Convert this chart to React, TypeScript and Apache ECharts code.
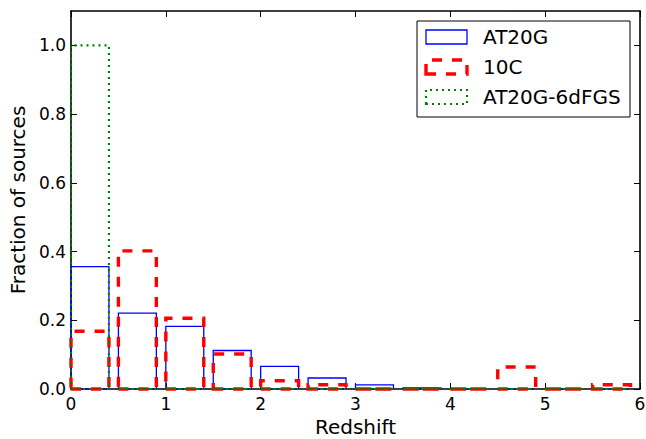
import React, { useEffect, useRef } from "react";
import * as echarts from "echarts";

// Histogram bins (left edge of each redshift bin, width 0.5)
const binStarts = [0, 0.5, 1, 1.5, 2, 2.5, 3, 3.5, 4, 4.5, 5, 5.5];

// Fraction of sources per bin
const at20g = [0.356, 0.221, 0.182, 0.112, 0.066, 0.032, 0.012, 0.003, 0, 0, 0, 0];
const tenC = [0.168, 0.402, 0.206, 0.102, 0.024, 0.0125, 0, 0, 0, 0.064, 0, 0.0125];
const at20g6dfgs = [1.0, 0, 0, 0, 0, 0, 0, 0, 0, 0, 0, 0];

const seriesNames = ["AT20G", "10C", "AT20G-6dFGS"];
const xTicks = [0, 1, 2, 3, 4, 5, 6];
const yTicks = [0, 0.2, 0.4, 0.6, 0.8, 1.0];

// Drawn bar spans 80% of the 0.5-wide bin
const BIN_WIDTH = 0.5;
const RWIDTH = 0.8;

const FONT = "DejaVu Sans";

type LineStyle = { stroke: string; lineWidth: number; lineDash?: number[] };

const styles: LineStyle[] = [
  { stroke: "#0000ff", lineWidth: 1.3 },
  { stroke: "#ff0000", lineWidth: 3.4, lineDash: [10, 10] },
  { stroke: "#008000", lineWidth: 2.2, lineDash: [2, 4] },
];

function outlineSeries(name: string, values: number[], st: LineStyle) {
  return {
    type: "custom",
    name,
    clip: false,
    xAxisIndex: 0,
    yAxisIndex: 0,
    encode: { x: 0, y: 1 },
    data: binStarts.map((b, i) => [b, values[i]]),
    renderItem: (_params: any, api: any) => {
      const x0 = api.value(0);
      const h = api.value(1);
      const bl = api.coord([x0, 0]);
      const tr = api.coord([x0 + BIN_WIDTH * RWIDTH, h]);
      return {
        type: "polygon",
        shape: {
          points: [
            [bl[0], bl[1]],
            [tr[0], bl[1]],
            [tr[0], tr[1]],
            [bl[0], tr[1]],
          ],
        },
        style: {
          fill: "none",
          stroke: st.stroke,
          lineWidth: st.lineWidth,
          lineDash: st.lineDash,
        },
      };
    },
  };
}

function legendGraphic() {
  const left = 417;
  const top = 21;
  const rows = [37, 67, 97];
  const children: any[] = [
    {
      type: "rect",
      shape: { x: left, y: top, width: 213, height: 96 },
      style: { fill: "#ffffff", stroke: "#000000", lineWidth: 1 },
    },
  ];
  seriesNames.forEach((name, i) => {
    const st = styles[i];
    const cy = rows[i];
    children.push({
      type: "polygon",
      shape: {
        points: [
          [426, cy + 7],
          [467, cy + 7],
          [467, cy - 7],
          [426, cy - 7],
        ],
      },
      style: {
        fill: "none",
        stroke: st.stroke,
        lineWidth: st.lineWidth,
        lineDash: st.lineDash,
      },
    });
    children.push({
      type: "text",
      x: 483,
      y: cy,
      style: {
        text: name,
        font: `20px "${FONT}"`,
        fill: "#000000",
        verticalAlign: "middle",
      },
    });
  });
  return [{ type: "group", children }];
}

const axisLineStyle = { color: "#000000", width: 1.6 };

export default function App() {
  const ref = useRef<HTMLDivElement>(null);

  useEffect(() => {
    if (!ref.current) return;
    const chart = echarts.init(ref.current, undefined, { renderer: "svg" });
    chart.setOption({
      animation: false,
      backgroundColor: "#ffffff",
      textStyle: { fontFamily: FONT },
      grid: {
        left: 71,
        right: 6,
        top: 11,
        bottom: 50,
        outerBoundsMode: "none",
        containLabel: false,
      },
      xAxis: [
        {
          type: "value",
          min: 0,
          max: 6,
          interval: 1,
          name: "Redshift",
          nameLocation: "middle",
          nameGap: 28,
          nameTextStyle: { fontFamily: FONT, fontSize: 20, color: "#000" },
          axisLine: { show: true, onZero: false, lineStyle: axisLineStyle },
          axisTick: {
            show: true,
            inside: true,
            length: 6,
            customValues: xTicks,
            lineStyle: { color: "#000", width: 1 },
          },
          axisLabel: {
            show: true,
            margin: 6,
            customValues: xTicks,
            fontFamily: FONT,
            fontSize: 17,
            color: "#000",
            formatter: (v: number) => String(v),
          },
          splitLine: { show: false },
        },
        {
          type: "value",
          position: "top",
          min: 0,
          max: 6,
          interval: 1,
          axisLine: { show: true, onZero: false, lineStyle: axisLineStyle },
          axisTick: {
            show: true,
            inside: true,
            length: 6,
            customValues: xTicks,
            lineStyle: { color: "#000", width: 1 },
          },
          axisLabel: { show: false },
          splitLine: { show: false },
        },
      ],
      yAxis: [
        {
          type: "value",
          min: 0,
          max: 1.1,
          interval: 0.2,
          name: "Fraction of sources",
          nameLocation: "middle",
          nameGap: 40,
          nameTextStyle: { fontFamily: FONT, fontSize: 20, color: "#000" },
          axisLine: { show: true, onZero: false, lineStyle: axisLineStyle },
          axisTick: {
            show: true,
            inside: true,
            length: 6,
            customValues: yTicks,
            lineStyle: { color: "#000", width: 1 },
          },
          axisLabel: {
            show: true,
            margin: 5,
            customValues: yTicks,
            fontFamily: FONT,
            fontSize: 17,
            color: "#000",
            formatter: (v: number) => v.toFixed(1),
          },
          splitLine: { show: false },
        },
        {
          type: "value",
          position: "right",
          min: 0,
          max: 1.1,
          interval: 0.2,
          axisLine: { show: true, onZero: false, lineStyle: axisLineStyle },
          axisTick: {
            show: true,
            inside: true,
            length: 6,
            customValues: yTicks,
            lineStyle: { color: "#000", width: 1 },
          },
          axisLabel: { show: false },
          splitLine: { show: false },
        },
      ],
      series: [
        outlineSeries(seriesNames[0], at20g, styles[0]),
        outlineSeries(seriesNames[1], tenC, styles[1]),
        outlineSeries(seriesNames[2], at20g6dfgs, styles[2]),
      ],
      graphic: legendGraphic(),
    });
    return () => chart.dispose();
  }, []);

  return (
    <div
      ref={ref}
      style={{ position: "fixed", left: 0, top: 0, width: 646, height: 439 }}
    />
  );
}
